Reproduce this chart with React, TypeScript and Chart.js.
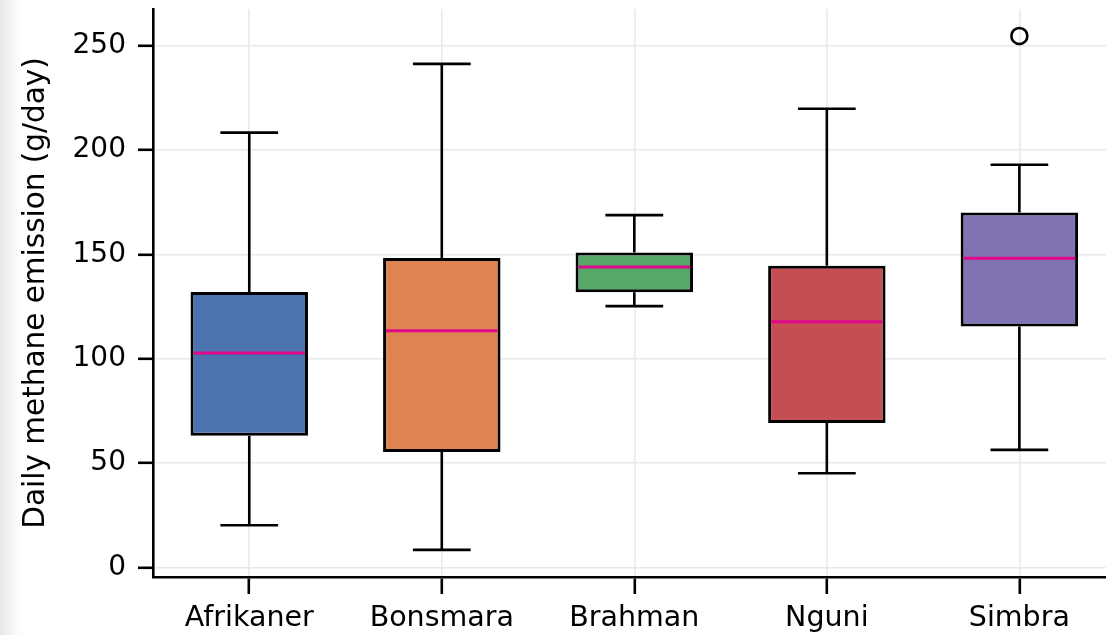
import React, { useEffect, useRef } from "react";
import { Chart, registerables } from "chart.js";

Chart.register(...registerables);

const breeds = ["Afrikaner", "Bonsmara", "Brahman", "Nguni", "Simbra"];
const whiskerLow = [20.3, 8.5, 125.2, 45.2, 56.4];
const q1 = [63.1, 55.4, 131.9, 69.3, 115.4];
const medians = [102.8, 113.4, 143.9, 117.7, 148.2];
const q3 = [132.0, 148.3, 150.9, 144.5, 170.0];
const whiskerHigh = [208.3, 241.2, 168.8, 219.7, 192.9];
const outlierBreedIndex = [4];
const outlierValues = [254.6];
const boxColors = ["#4C72B0", "#DD8452", "#55A868", "#C44E52", "#8172B3"];
const yTicks = [0, 50, 100, 150, 200, 250];

const FONT = "'DejaVu Sans', sans-serif";

const boxPlugin = {
  id: "boxWhiskers",
  afterDatasetsDraw(chart: any) {
    const ctx = chart.ctx;
    const xs = chart.scales.x;
    const ys = chart.scales.y;
    const capHalf = 0.15;
    const boxHalf = 0.3;
    ctx.save();
    breeds.forEach((_, i) => {
      const xc = xs.getPixelForValue(i);
      const capL = xs.getPixelForValue(i - capHalf);
      const capR = xs.getPixelForValue(i + capHalf);
      ctx.strokeStyle = "#000";
      ctx.lineWidth = 2.6;
      ctx.lineCap = "butt";
      ctx.beginPath();
      ctx.moveTo(xc, ys.getPixelForValue(q3[i]));
      ctx.lineTo(xc, ys.getPixelForValue(whiskerHigh[i]));
      ctx.moveTo(capL, ys.getPixelForValue(whiskerHigh[i]));
      ctx.lineTo(capR, ys.getPixelForValue(whiskerHigh[i]));
      ctx.moveTo(xc, ys.getPixelForValue(q1[i]));
      ctx.lineTo(xc, ys.getPixelForValue(whiskerLow[i]));
      ctx.moveTo(capL, ys.getPixelForValue(whiskerLow[i]));
      ctx.lineTo(capR, ys.getPixelForValue(whiskerLow[i]));
      ctx.stroke();
      ctx.strokeStyle = "#E2068A";
      ctx.lineWidth = 3;
      ctx.beginPath();
      const bl = xs.getPixelForValue(i - boxHalf) + 2;
      const br = xs.getPixelForValue(i + boxHalf) - 2;
      ctx.moveTo(bl, ys.getPixelForValue(medians[i]));
      ctx.lineTo(br, ys.getPixelForValue(medians[i]));
      ctx.stroke();
    });
    ctx.restore();
  },
};

export default function App() {
  const ref = useRef<HTMLCanvasElement | null>(null);
  useEffect(() => {
    if (!ref.current) return;
    const chart = new Chart(ref.current, {
      type: "bar",
      data: {
        datasets: [
          {
            type: "bar",
            data: breeds.map((_, i) => ({ x: i, y: [q1[i], q3[i]] })) as any,
            backgroundColor: boxColors,
            borderColor: "#000",
            borderWidth: 3,
            borderSkipped: false,
            barPercentage: 0.61,
            categoryPercentage: 1,
            order: 2,
          } as any,
          {
            type: "scatter",
            data: outlierBreedIndex.map((b, k) => ({ x: b, y: outlierValues[k] })),
            pointRadius: 8,
            pointBorderWidth: 2.6,
            pointBorderColor: "#000",
            pointBackgroundColor: "rgba(0,0,0,0)",
            showLine: false,
            order: 1,
          } as any,
        ],
      },
      options: {
        responsive: false,
        animation: false,
        layout: { autoPadding: false, padding: { top: 9, right: 0, left: 0, bottom: 0 } },
        plugins: { legend: { display: false }, tooltip: { enabled: false } },
        scales: {
          x: {
            type: "linear",
            min: -0.5,
            max: 4.45,
            offset: false,
            afterBuildTicks: (s: any) => {
              s.ticks = breeds.map((_, i) => ({ value: i }));
            },
            afterFit: (s: any) => {
              s.height = 58;
              s.paddingLeft = 0;
              s.paddingRight = 0;
            },
            grid: {
              offset: false,
              color: "#E8E8EF",
              lineWidth: 1.6,
              tickColor: "#000",
              tickWidth: 2.6,
              tickLength: 17,
            },
            border: { color: "#000", width: 2.6 },
            ticks: {
              color: "#000",
              font: { family: FONT, size: 28.5 },
              padding: 7,
              maxRotation: 0,
              autoSkip: false,
              callback: (v: any) => breeds[v] ?? "",
            },
          },
          y: {
            type: "linear",
            min: -4.5,
            max: 267.5,
            afterBuildTicks: (s: any) => {
              s.ticks = yTicks.map((v) => ({ value: v }));
            },
            afterFit: (s: any) => {
              s.width = 153;
              s.paddingTop = 0;
              s.paddingBottom = 0;
            },
            grid: {
              color: "#E8E8EF",
              lineWidth: 1.6,
              tickColor: "#000",
              tickWidth: 2.6,
              tickLength: 15,
            },
            border: { color: "#000", width: 2.6 },
            ticks: {
              color: "#000",
              font: { family: FONT, size: 28 },
              padding: 12,
            },
            title: {
              display: true,
              text: "Daily methane emission (g/day)",
              color: "#000",
              font: { family: FONT, size: 29.5 },
              padding: { top: 19, bottom: 0 },
            },
          },
        },
      },
      plugins: [boxPlugin],
    });
    return () => chart.destroy();
  }, []);
  return (
    <div
      style={{
        position: "fixed",
        left: 0,
        top: 0,
        width: 1106,
        height: 635,
        background: "linear-gradient(to right, #e6e6e6 0px, #f6f6f6 12px, #ffffff 22px)",
      }}
    >
      <canvas ref={ref} width={1106} height={635} style={{ display: "block" }} />
    </div>
  );
}
